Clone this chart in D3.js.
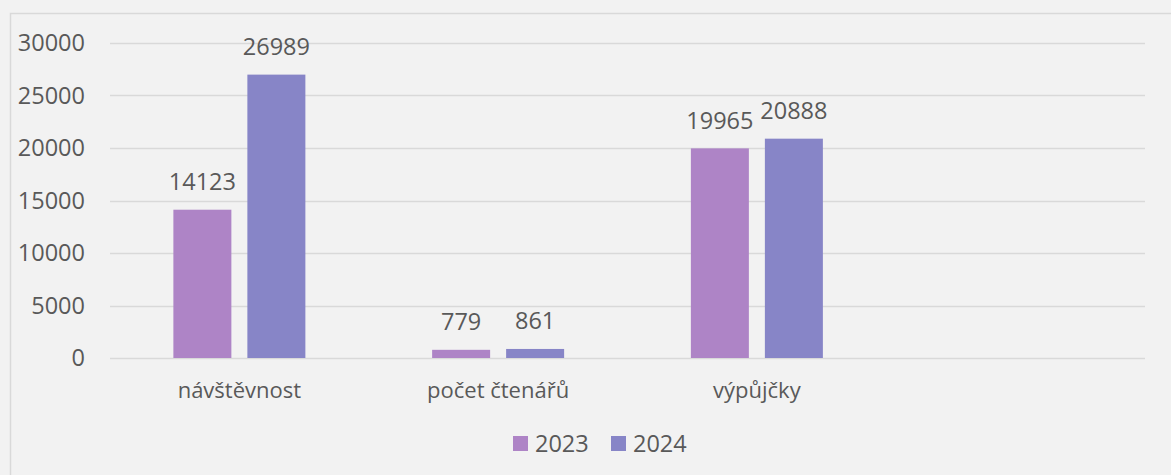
<!DOCTYPE html>
<html>
<head>
<meta charset="utf-8">
<script src="https://cdn.jsdelivr.net/npm/d3@7"></script>
<style>
  html, body { margin: 0; padding: 0; background: #f2f2f2; }
  svg { display: block; }
</style>
</head>
<body>
<svg id="chart" width="1171" height="475"></svg>
<script>
var categories = ["návštěvnost", "počet čtenářů", "výpůjčky", ""];
var seriesNames = ["2023", "2024"];
var values2023 = [14123, 779, 19965, null];
var values2024 = [26989, 861, 20888, null];
var yTicks = [0, 5000, 10000, 15000, 20000, 25000, 30000];

var colors = ["#ae84c6", "#8785c7"];
var textColor = "#595959";
var fontFamily = "'Open Sans', 'Noto Sans', sans-serif";
var numSize = 23.5;

var svg = d3.select("#chart");

// frame
svg.append("rect")
    .attr("x", 10.5)
    .attr("y", 13.5)
    .attr("width", 1200)
    .attr("height", 500)
    .attr("fill", "#f2f2f2")
    .attr("stroke", "#d9d9d9")
    .attr("stroke-width", 1.5);

var plotLeft = 110, plotRight = 1145;
var x = d3.scaleBand().domain(d3.range(categories.length)).range([plotLeft, plotRight]);
var y = d3.scaleLinear().domain([0, 30000]).range([358, 43]);

// gridlines
svg.append("g").selectAll("line")
    .data(yTicks)
    .join("line")
    .attr("x1", plotLeft)
    .attr("x2", plotRight)
    .attr("y1", function (d) { return Math.round(y(d)) + 0.5; })
    .attr("y2", function (d) { return Math.round(y(d)) + 0.5; })
    .attr("stroke", "#d9d9d9")
    .attr("stroke-width", 1.5);

// y axis labels
svg.append("g").selectAll("text")
    .data(yTicks)
    .join("text")
    .text(function (d) { return d; })
    .attr("x", 85)
    .attr("y", function (d) { return y(d); })
    .attr("dy", "0.35em")
    .attr("text-anchor", "end")
    .attr("font-family", fontFamily)
    .attr("font-size", numSize)
    .attr("fill", textColor);

var barWidth = 58, barGap = 16;
var series = [values2023, values2024];

series.forEach(function (vals, si) {
    var offset = si === 0 ? -barGap / 2 - barWidth : barGap / 2;
    var items = vals.map(function (v, i) { return { i: i, v: v }; })
        .filter(function (d) { return d.v !== null; });

    svg.append("g").selectAll("rect")
        .data(items)
        .join("rect")
        .attr("x", function (d) { return x(d.i) + x.bandwidth() / 2 + offset; })
        .attr("y", function (d) { return y(d.v); })
        .attr("width", barWidth)
        .attr("height", function (d) { return y(0) - y(d.v); })
        .attr("fill", colors[si]);

    svg.append("g").selectAll("text")
        .data(items)
        .join("text")
        .text(function (d) { return d.v; })
        .attr("x", function (d) { return x(d.i) + x.bandwidth() / 2 + offset + barWidth / 2; })
        .attr("y", function (d) { return y(d.v) - 28; })
        .attr("dy", "0.35em")
        .attr("text-anchor", "middle")
        .attr("font-family", fontFamily)
        .attr("font-size", numSize)
        .attr("fill", textColor);
});

// category labels
svg.append("g").selectAll("text")
    .data(categories)
    .join("text")
    .text(function (d) { return d; })
    .attr("x", function (d, i) { return x(i) + x.bandwidth() / 2; })
    .attr("y", 390)
    .attr("dy", "0.35em")
    .attr("text-anchor", "middle")
    .attr("font-family", fontFamily)
    .attr("font-size", 22)
    .attr("fill", textColor);

// legend
var legendX = [513, 611];
var legend = svg.append("g").selectAll("g")
    .data(seriesNames)
    .join("g")
    .attr("transform", function (d, i) { return "translate(" + legendX[i] + ",436)"; });

legend.append("rect")
    .attr("width", 15)
    .attr("height", 15)
    .attr("fill", function (d, i) { return colors[i]; });

legend.append("text")
    .text(function (d) { return d; })
    .attr("x", 22)
    .attr("y", 7.5)
    .attr("dy", "0.35em")
    .attr("font-family", fontFamily)
    .attr("font-size", numSize)
    .attr("fill", textColor);
</script>
</body>
</html>
